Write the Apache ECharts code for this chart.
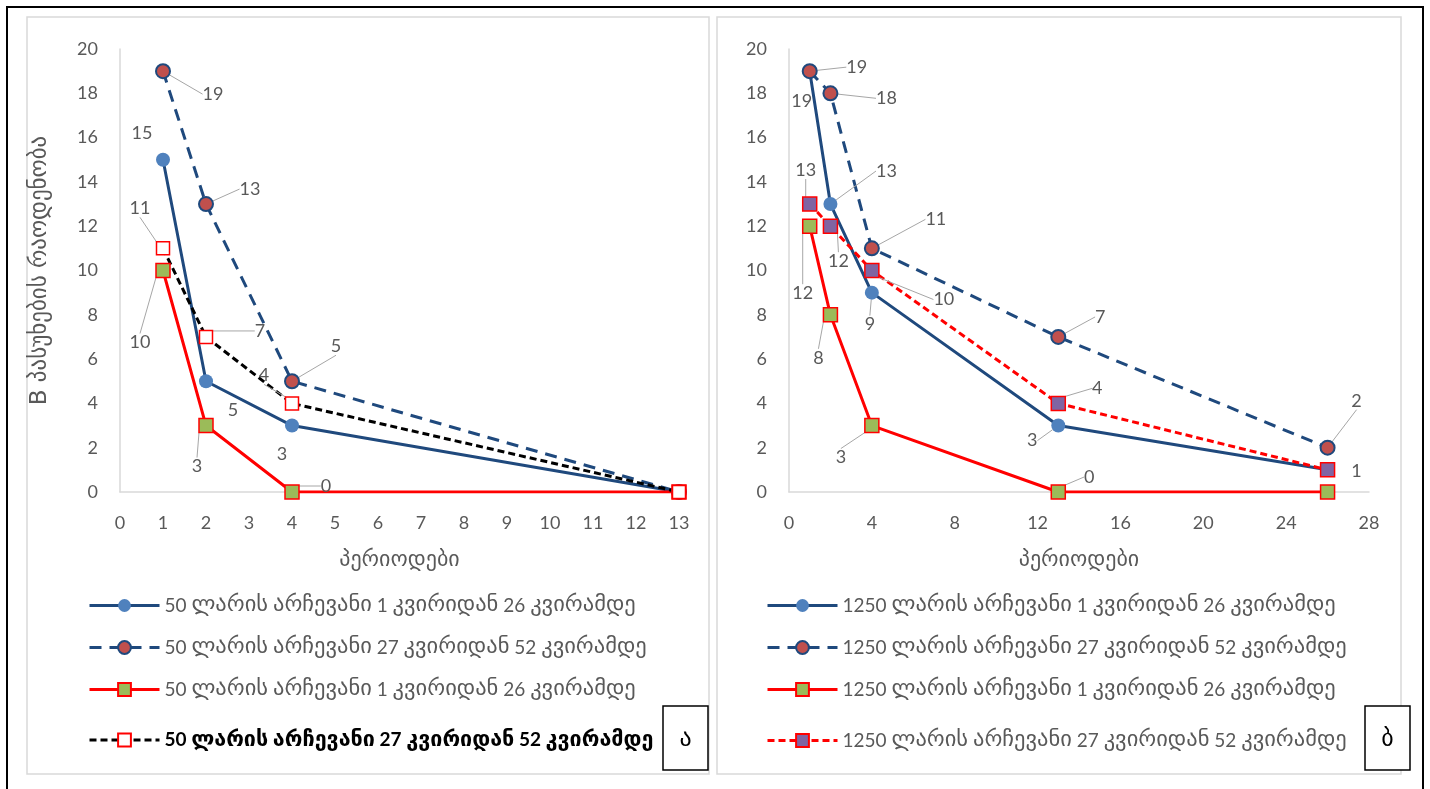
<!DOCTYPE html>
<html>
<head>
<meta charset="utf-8">
<script src="https://cdn.jsdelivr.net/npm/echarts@6/dist/echarts.min.js"></script>
<style>
html,body{margin:0;padding:0;background:#fff;}
#c{width:1430px;height:789px;}
</style>
</head>
<body>
<div id="c"></div>
<script>
// ---------- DATA ----------
const xLeft = [1, 2, 4, 13];
const xRight = [1, 2, 4, 13, 26];

const left50_1to26_blue = [15, 5, 3, 0];
const left50_27to52_blue = [19, 13, 5, 0];
const left50_1to26_red = [10, 3, 0, 0];
const left50_27to52_black = [11, 7, 4, 0];

const right1250_1to26_blue = [19, 13, 9, 3, 1];
const right1250_27to52_blue = [19, 18, 11, 7, 2];
const right1250_1to26_red = [12, 8, 3, 0, 0];
const right1250_27to52_red = [13, 12, 10, 4, 1];

const xTicksLeft = [0, 13, 1];   // min, max, interval
const xTicksRight = [0, 28, 4];
const yTicks = [0, 20, 2];

const ZW = '\u200b';
const nameL1 = '50 ლარის არჩევანი 1 კვირიდან 26 კვირამდე';
const nameL2 = '50 ლარის არჩევანი 27 კვირიდან 52 კვირამდე';
const nameL3 = nameL1 + ZW;
const nameL4 = nameL2 + ZW;
const nameR1 = '1250 ლარის არჩევანი 1 კვირიდან 26 კვირამდე';
const nameR2 = '1250 ლარის არჩევანი 27 კვირიდან 52 კვირამდე';
const nameR3 = nameR1 + ZW;
const nameR4 = nameR2 + ZW;
const yTitle = 'B პასუხების რაოდენობა';
const xTitle = 'პერიოდები';

// ---------- LABEL PLACEMENT (dx, dy, leader) ----------
const labelPlace = [
  [[-21,-27,0],[27,29,0],[-10,29,0],null],
  [[50,23,1],[44,-15,1],[44,-35,1],null],
  [[-23,72,1],[-9,41,1],[34,-6,1],null],
  [[-23,-40,1],[54,-6,1],[-28,-28,1],null],
  [[-8,30,0],[56,-33,1],[-2,32,1],[-26,15,1],null],
  [[47,-4,1],[56,5,1],[64,-29,1],[42,-20,1],[29,-47,1]],
  [[-7,67,1],[-12,43,1],[-31,32,1],[31,-15,1],null],
  [[-4,-34,1],[8,35,1],[72,29,1],[39,-15,1],[29,1,0]]
];

const FONT = 'Lato, "DejaVu Sans", sans-serif';
const GEO = '"DejaVu Sans", sans-serif';
const GRAY = '#595959';
const DARKBLUE = '#1F497D';
const GEO_SIZE = 22;

function mk(xs, ys, si) {
  return xs.map((x, i) => {
    const p = labelPlace[si][i];
    return {
      value: [x, ys[i]],
      label: { show: !!p },
      labelLine: { show: !!(p && p[2]) }
    };
  });
}

function series(name, xs, ys, si, axisIdx, opt) {
  return Object.assign({
    name: name,
    type: 'line',
    xAxisIndex: axisIdx,
    yAxisIndex: axisIdx,
    data: mk(xs, ys, si),
    symbolSize: 13,
    label: {
      show: true, position: 'inside',
      formatter: p => p.value[1],
      color: GRAY, fontSize: 18, fontFamily: FONT
    },
    labelLine: { show: true, lineStyle: { color: '#A6A6A6', width: 1 } },
    labelLayout: function (params) {
      const p = labelPlace[si][params.dataIndex];
      if (!p) return {};
      return { dx: p[0], dy: p[1] };
    },
    animation: false
  }, opt);
}

const blueSolid = {
  symbol: 'circle', symbolSize: 14,
  lineStyle: { color: DARKBLUE, width: 3, type: 'solid' },
  itemStyle: { color: '#4F81BD', borderColor: '#4F81BD', borderWidth: 0 }
};
const blueDashed = {
  symbol: 'circle', symbolSize: 14,
  lineStyle: { color: DARKBLUE, width: 3, type: [12, 8] },
  itemStyle: { color: '#C0504D', borderColor: DARKBLUE, borderWidth: 2 }
};
const redSolid = {
  symbol: 'rect', symbolSize: 14,
  lineStyle: { color: '#FF0000', width: 3, type: 'solid' },
  itemStyle: { color: '#9BBB59', borderColor: '#FF0000', borderWidth: 1.5 }
};
const blackDashed = {
  symbol: 'rect', symbolSize: 13,
  lineStyle: { color: '#000000', width: 3, type: [7, 4] },
  itemStyle: { color: '#FFFFFF', borderColor: '#FF0000', borderWidth: 1.5 }
};
const redDashed = {
  symbol: 'rect', symbolSize: 14,
  lineStyle: { color: '#FF0000', width: 3, type: [7, 4] },
  itemStyle: { color: '#8064A2', borderColor: '#FF0000', borderWidth: 1.5 }
};

function xAxis(idx, t) {
  return {
    type: 'value', gridIndex: idx, min: t[0], max: t[1], interval: t[2],
    name: xTitle, nameLocation: 'middle', nameGap: 57,
    nameTextStyle: { color: GRAY, fontSize: GEO_SIZE, fontFamily: GEO },
    axisLine: { show: true, lineStyle: { color: '#D9D9D9', width: 1.5 } },
    axisTick: { show: false }, splitLine: { show: false },
    axisLabel: { color: GRAY, fontSize: 18, fontFamily: FONT, margin: 22 }
  };
}
function yAxis(idx, withName) {
  return {
    type: 'value', gridIndex: idx, min: yTicks[0], max: yTicks[1], interval: yTicks[2],
    name: withName ? yTitle : '', nameLocation: 'middle', nameGap: 68,
    nameTextStyle: { color: GRAY, fontSize: GEO_SIZE + 1, fontFamily: GEO },
    axisLine: { show: true, lineStyle: { color: '#D9D9D9', width: 1.5 } },
    axisTick: { show: false }, splitLine: { show: false },
    axisLabel: { color: GRAY, fontSize: 18, fontFamily: FONT, margin: 22 }
  };
}

function richName(name, bold) {
  const clean = name.replace(/\u200b/g, '');
  const g = bold ? 'gb' : 'g', d = bold ? 'db' : 'd';
  return clean.split(/([\u10A0-\u10FF]+)/).filter(s => s.length)
    .map(s => /[\u10A0-\u10FF]/.test(s) ? '{' + g + '|' + s + '}' : '{' + d + '|' + s + '}').join('');
}

function legend(name, left, centerY, bold) {
  const col = bold ? '#000' : GRAY;
  const fw = bold ? 'bold' : 'normal';
  return {
    data: [name], left: left, top: centerY - 12, padding: 0,
    itemWidth: 70, itemHeight: 16, itemGap: 0, selectedMode: false,
    lineStyle: { width: 3 },
    formatter: n => richName(n, bold),
    textStyle: {
      color: col, fontWeight: fw, fontSize: 19, fontFamily: FONT,
      rich: {
        g: { color: GRAY, fontSize: 22.5, fontFamily: GEO, fontWeight: 'normal', lineHeight: 24 },
        d: { color: GRAY, fontSize: 19, fontFamily: FONT, fontWeight: 'normal', lineHeight: 24 },
        gb: { color: '#000', fontSize: 21.5, fontFamily: GEO, fontWeight: 'bold', lineHeight: 24 },
        db: { color: '#000', fontSize: 19, fontFamily: FONT, fontWeight: 'bold', lineHeight: 24 }
      }
    }
  };
}

const chart = echarts.init(document.getElementById('c'), null, { renderer: 'canvas' });
chart.setOption({
  backgroundColor: '#fff',
  animation: false,
  grid: [
    { left: 120, right: 1430 - 679, top: 49, bottom: 789 - 492 },
    { left: 789, right: 1430 - 1369, top: 49, bottom: 789 - 492 }
  ],
  xAxis: [xAxis(0, xTicksLeft), xAxis(1, xTicksRight)],
  yAxis: [yAxis(0, true), yAxis(1, false)],
  legend: [
    legend(nameL1, 88, 606), legend(nameL2, 88, 648), legend(nameL3, 88, 690), legend(nameL4, 88, 741, true),
    legend(nameR1, 766, 606), legend(nameR2, 766, 648), legend(nameR3, 766, 690), legend(nameR4, 766, 741)
  ],
  graphic: [
    { type: 'rect', shape: { x: 7, y: 7, width: 1416, height: 790 }, style: { fill: 'none', stroke: '#000', lineWidth: 2 }, z: -10 },
    { type: 'rect', shape: { x: 27, y: 17, width: 682, height: 757 }, style: { fill: 'none', stroke: '#D9D9D9', lineWidth: 1.5 }, z: -10 },
    { type: 'rect', shape: { x: 717, y: 17, width: 684, height: 757 }, style: { fill: 'none', stroke: '#D9D9D9', lineWidth: 1.5 }, z: -10 },
    { type: 'rect', shape: { x: 663, y: 706, width: 45, height: 64 }, style: { fill: '#fff', stroke: '#000', lineWidth: 1.5 }, z: 10 },
    { type: 'text', x: 685.5, y: 740, style: { text: 'ა', fill: '#000', fontSize: 24, fontFamily: GEO, align: 'center', verticalAlign: 'middle' }, z: 11 },
    { type: 'rect', shape: { x: 1365, y: 706, width: 45, height: 64 }, style: { fill: '#fff', stroke: '#000', lineWidth: 1.5 }, z: 10 },
    { type: 'text', x: 1387.5, y: 740, style: { text: 'ბ', fill: '#000', fontSize: 24, fontFamily: GEO, align: 'center', verticalAlign: 'middle' }, z: 11 }
  ],
  series: [
    series(nameL1, xLeft, left50_1to26_blue, 0, 0, blueSolid),
    series(nameL2, xLeft, left50_27to52_blue, 1, 0, blueDashed),
    series(nameL3, xLeft, left50_1to26_red, 2, 0, redSolid),
    series(nameL4, xLeft, left50_27to52_black, 3, 0, blackDashed),
    series(nameR1, xRight, right1250_1to26_blue, 4, 1, blueSolid),
    series(nameR2, xRight, right1250_27to52_blue, 5, 1, blueDashed),
    series(nameR3, xRight, right1250_1to26_red, 6, 1, redSolid),
    series(nameR4, xRight, right1250_27to52_red, 7, 1, redDashed)
  ]
});
</script>
</body>
</html>
